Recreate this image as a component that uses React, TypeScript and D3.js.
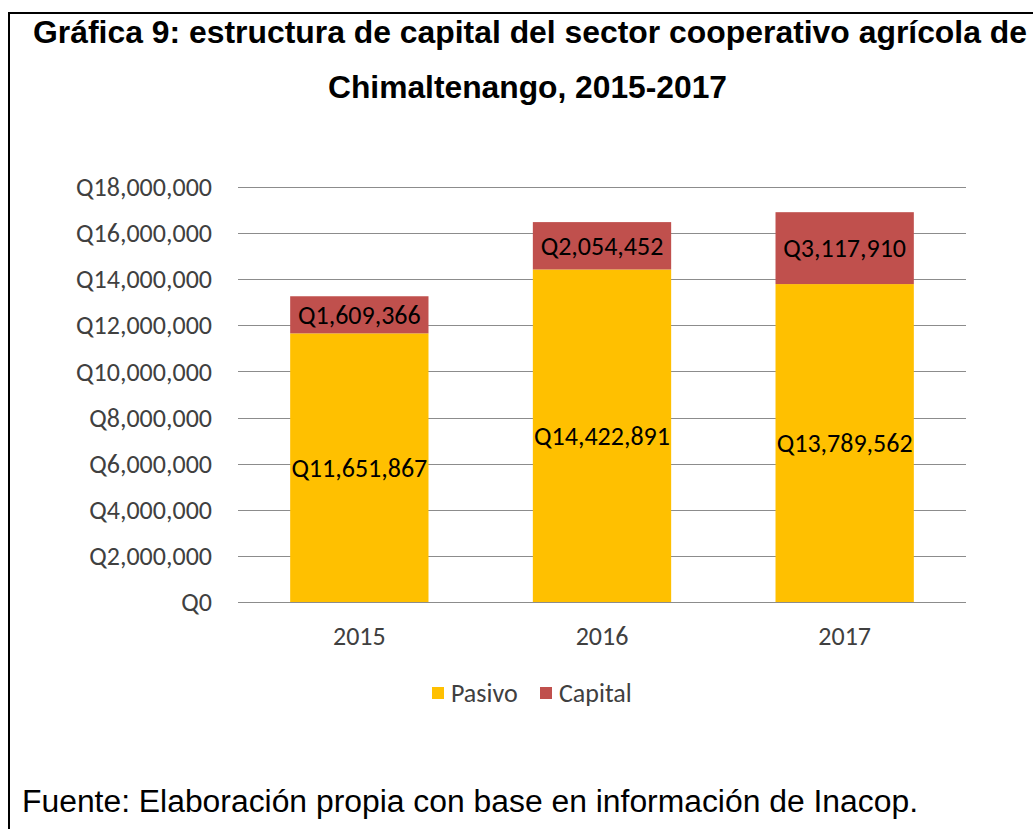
import React, { useEffect, useRef } from "react";
import * as d3 from "d3";

const years = ["2015", "2016", "2017"];
const pasivo = [11651867, 14422891, 13789562];
const capital = [1609366, 2054452, 3117910];
const yTicks = [0, 2000000, 4000000, 6000000, 8000000, 10000000, 12000000, 14000000, 16000000, 18000000];
const seriesNames = ["Pasivo", "Capital"];
const seriesColors = ["#FFC000", "#C0504D"];

const W = 1033;
const H = 829;
const labelFont = "Carlito, Calibri, 'Open Sans', sans-serif";
const titleFont = "'Liberation Sans', Arial, sans-serif";

const fmt = (v: number) => "Q" + d3.format(",")(v);

const App = () => {
  const ref = useRef<SVGSVGElement>(null);

  useEffect(() => {
    const svg = d3.select(ref.current);
    svg.selectAll("*").remove();

    // frame (right and bottom cut off)
    svg
      .append("path")
      .attr("d", `M9,${H + 5}V13H${W + 5}`)
      .attr("fill", "none")
      .attr("stroke", "#000")
      .attr("stroke-width", 2);

    // title
    svg
      .append("text")
      .attr("x", 33)
      .attr("y", 42.5)
      .attr("font-family", titleFont)
      .attr("font-weight", "bold")
      .attr("font-size", 32)
      .attr("textLength", 994)
      .attr("lengthAdjust", "spacingAndGlyphs")
      .attr("fill", "#000")
      .text("Gráfica 9: estructura de capital del sector cooperativo agrícola de");
    svg
      .append("text")
      .attr("x", 328)
      .attr("y", 98)
      .attr("font-family", titleFont)
      .attr("font-weight", "bold")
      .attr("font-size", 32)
      .attr("textLength", 399)
      .attr("lengthAdjust", "spacingAndGlyphs")
      .attr("fill", "#000")
      .text("Chimaltenango, 2015-2017");

    const x = d3.scaleBand().domain(years).range([238, 966]).paddingInner(0.43).paddingOuter(0.215);
    const y = d3.scaleLinear().domain([0, 18000000]).range([602, 187]);

    // grid
    svg
      .append("g")
      .selectAll("line")
      .data(yTicks)
      .join("line")
      .attr("x1", 238)
      .attr("x2", 966)
      .attr("y1", (d) => Math.round(y(d)) + 0.5)
      .attr("y2", (d) => Math.round(y(d)) + 0.5)
      .attr("stroke", "#8c8c8c")
      .attr("stroke-width", 1);

    // y tick labels
    svg
      .append("g")
      .selectAll("text")
      .data(yTicks)
      .join("text")
      .attr("x", 212)
      .attr("y", (d) => y(d))
      .attr("dy", "0.35em")
      .attr("text-anchor", "end")
      .attr("font-family", labelFont)
      .attr("font-size", 26)
      .attr("fill", "#404040")
      .text((d) => fmt(d));

    // stacked bars
    const rows = years.map((yr, i) => ({ year: yr, Pasivo: pasivo[i], Capital: capital[i] }));
    const stack = d3.stack<any>().keys(seriesNames)(rows);

    stack.forEach((layer, li) => {
      const g = svg.append("g");
      g.selectAll("rect")
        .data(layer)
        .join("rect")
        .attr("x", (d: any) => x(d.data.year)!)
        .attr("width", x.bandwidth())
        .attr("y", (d) => y(d[1]))
        .attr("height", (d) => y(d[0]) - y(d[1]))
        .attr("fill", seriesColors[li]);
      g.selectAll("text")
        .data(layer)
        .join("text")
        .attr("x", (d: any) => x(d.data.year)! + x.bandwidth() / 2)
        .attr("y", (d) => (y(d[0]) + y(d[1])) / 2)
        .attr("dy", "0.35em")
        .attr("text-anchor", "middle")
        .attr("font-family", labelFont)
        .attr("font-size", 26)
        .attr("fill", "#000")
        .text((d: any) => fmt(d.data[seriesNames[li]]));
    });

    // baseline
    svg
      .append("line")
      .attr("x1", 238)
      .attr("x2", 966)
      .attr("y1", Math.round(y(0)) + 0.5)
      .attr("y2", Math.round(y(0)) + 0.5)
      .attr("stroke", "#8c8c8c");

    // x labels
    svg
      .append("g")
      .selectAll("text")
      .data(years)
      .join("text")
      .attr("x", (d) => x(d)! + x.bandwidth() / 2)
      .attr("y", 636)
      .attr("dy", "0.35em")
      .attr("text-anchor", "middle")
      .attr("font-family", labelFont)
      .attr("font-size", 26)
      .attr("fill", "#404040")
      .text((d) => d);

    // legend
    const legX = [432, 540];
    seriesNames.forEach((name, i) => {
      svg
        .append("rect")
        .attr("x", legX[i])
        .attr("y", 687)
        .attr("width", 12)
        .attr("height", 12)
        .attr("fill", seriesColors[i]);
      svg
        .append("text")
        .attr("x", legX[i] + 19)
        .attr("y", 693)
        .attr("dy", "0.35em")
        .attr("font-family", labelFont)
        .attr("font-size", 26)
        .attr("fill", "#404040")
        .text(name);
    });

    // source
    svg
      .append("text")
      .attr("x", 22)
      .attr("y", 812)
      .attr("font-family", titleFont)
      .attr("font-size", 31)
      .attr("textLength", 896)
      .attr("lengthAdjust", "spacingAndGlyphs")
      .attr("fill", "#000")
      .text("Fuente: Elaboración propia con base en información de Inacop.");
  }, []);

  return (
    <svg
      ref={ref}
      width={W}
      height={H}
      style={{ position: "absolute", left: 0, top: 0, background: "#fff" }}
    ></svg>
  );
};

export default App;
